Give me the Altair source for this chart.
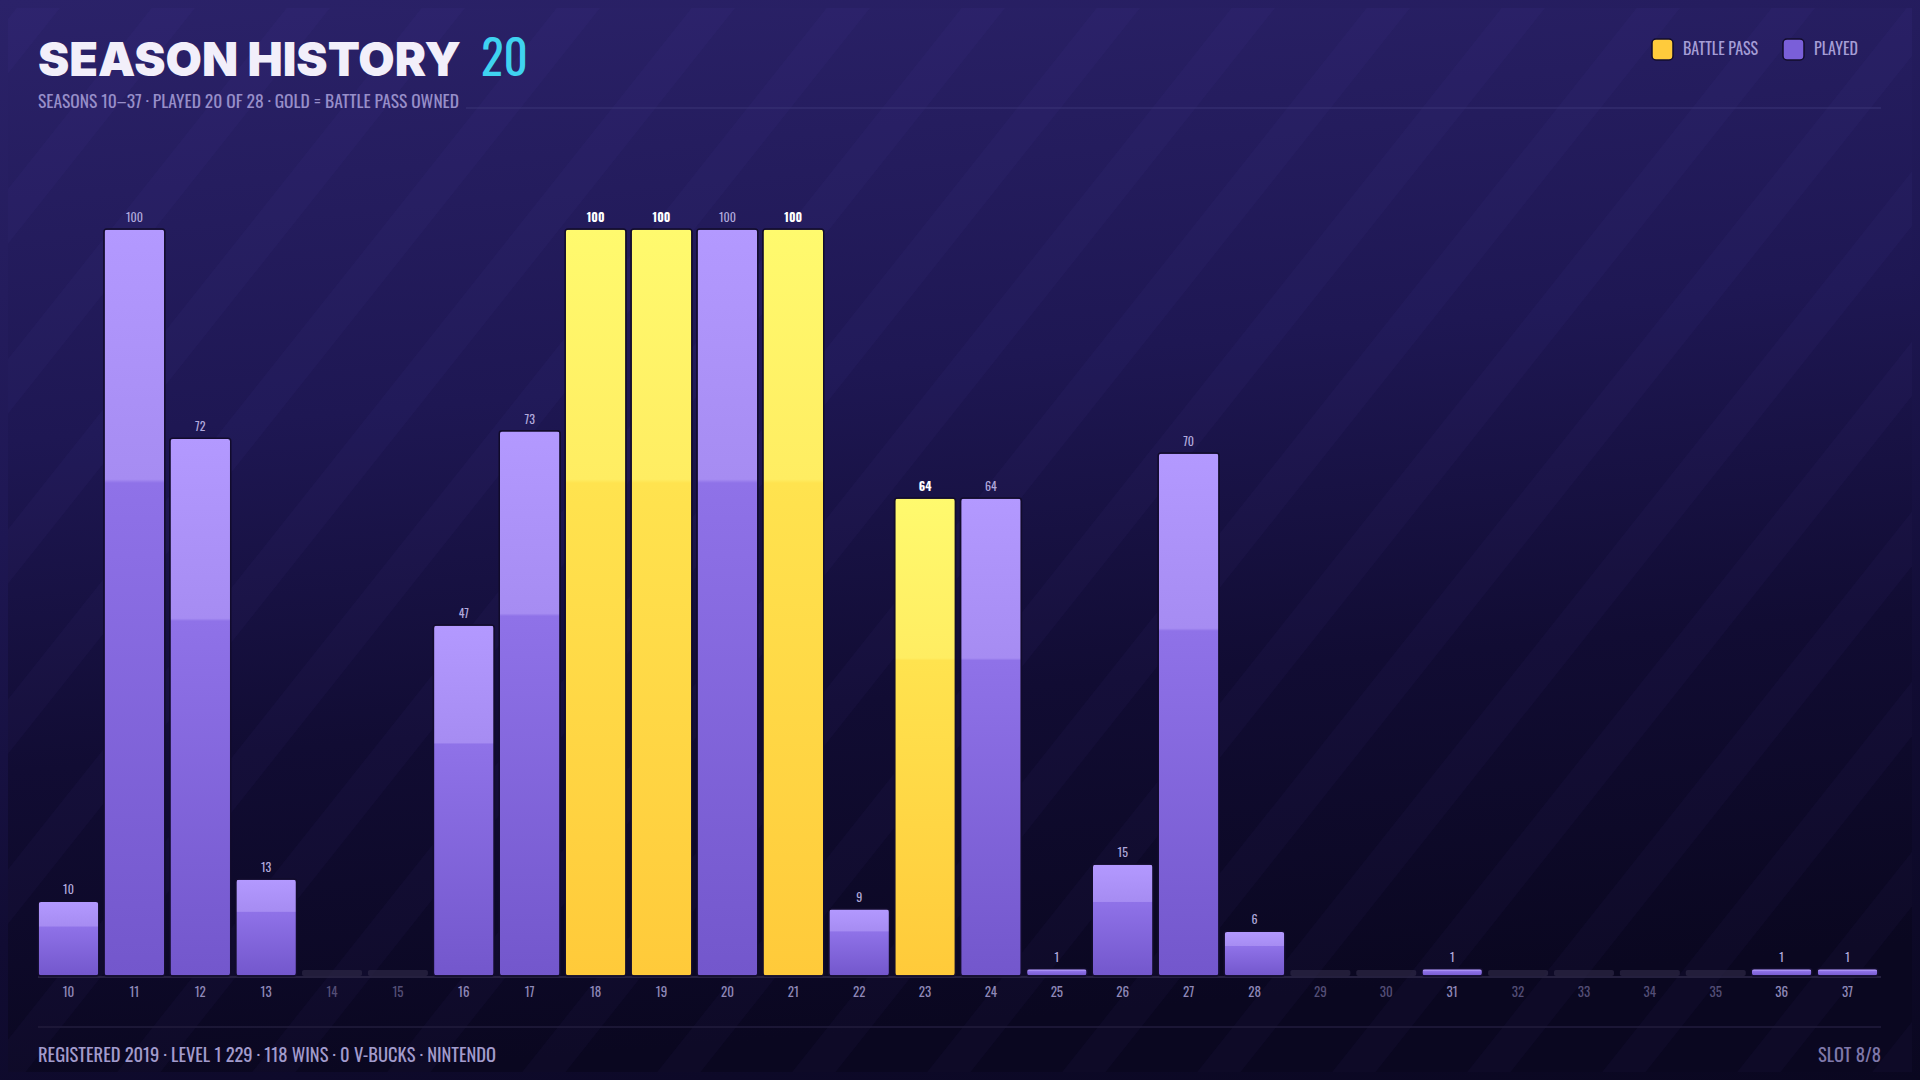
import altair as alt
import pandas as pd

# ---- data ----
seasons = list(range(10, 38))
progress = [10, 100, 72, 13, 0, 0, 47, 73, 100, 100, 100, 100, 9, 64, 64, 1, 15, 70, 6,
            0, 0, 1, 0, 0, 0, 0, 1, 1]
battle_pass = [18, 19, 21, 23]

df = pd.DataFrame({"season": [str(s) for s in seasons], "v": progress})
df["kind"] = ["bp" if s in battle_pass else ("played" if v > 0 else "empty")
              for s, v in zip(seasons, progress)]
order = [str(s) for s in seasons]

W, H = 1840, 747          # plot area
PL, PT = 30, 221          # padding left/top (chart coords)
TOTAL_W, TOTAL_H = 1904, 1064
COND = ("Oswald, 'Roboto Condensed', 'Noto Sans Condensed', 'Open Sans Condensed', "
        "'Liberation Sans Narrow', 'Arial Narrow', 'DejaVu Sans Condensed', sans-serif")
HEAVY = "Inter, Roboto, 'DejaVu Sans', sans-serif"

x = alt.X("season:N", sort=order, axis=None,
          scale=alt.Scale(paddingInner=0.075, paddingOuter=0.0))
y = alt.Y("v:Q", axis=None, scale=alt.Scale(domain=[0, 100], nice=False))

one = pd.DataFrame({"a": [0]})

bg = alt.Chart(one).mark_rect(
    fill=alt.Gradient(gradient="linear", x1=0, y1=0, x2=0.15, y2=1,
                      stops=[alt.GradientStop(color="#2b2269", offset=0),
                             alt.GradientStop(color="#1e1753", offset=0.4),
                             alt.GradientStop(color="#110c33", offset=0.7),
                             alt.GradientStop(color="#0a0720", offset=1)])
).encode(x=alt.value(-PL - 8), x2=alt.value(TOTAL_W - PL + 8),
         y=alt.value(-PT - 8), y2=alt.value(TOTAL_H - PT + 8))

# subtle diagonal stripes (decoration)
offs = list(range(-1100, 2000, 135))
stripes_df = pd.DataFrame({"x0": [o - PL for o in offs],
                           "x1": [o + 900 - PL for o in offs]})
stripes = alt.Chart(stripes_df).mark_rule(
    color="#8a7cff", opacity=0.035, strokeWidth=34, strokeCap="butt"
).encode(x=alt.X("x0:Q", scale=None), x2="x1:Q",
         y=alt.value(TOTAL_H - PT + 20), y2=alt.value(-PT - 50))

played_grad = alt.Gradient(gradient="linear", x1=0, y1=0, x2=0, y2=1, stops=[
    alt.GradientStop(color="#b399ff", offset=0),
    alt.GradientStop(color="#a68cf2", offset=0.335),
    alt.GradientStop(color="#8f72e8", offset=0.34),
    alt.GradientStop(color="#7357cc", offset=1)])
bp_grad = alt.Gradient(gradient="linear", x1=0, y1=0, x2=0, y2=1, stops=[
    alt.GradientStop(color="#fffa6e", offset=0),
    alt.GradientStop(color="#ffed62", offset=0.335),
    alt.GradientStop(color="#ffe34f", offset=0.34),
    alt.GradientStop(color="#ffca3a", offset=1)])

base = alt.Chart(df)

empty_ticks = base.transform_filter("datum.kind == 'empty'").mark_tick(
    color="#2c2745", thickness=6, size=60, yOffset=-3, cornerRadius=2
).encode(x=x, y=y)

played = base.transform_filter("datum.kind == 'played'").mark_bar(
    fill=played_grad, stroke="#120c2c", strokeWidth=1.5, cornerRadius=3
).encode(x=x, y=y)
bp = base.transform_filter("datum.kind == 'bp'").mark_bar(
    fill=bp_grad, stroke="#120c2c", strokeWidth=1.5, cornerRadius=3
).encode(x=x, y=y)

lbl_played = base.transform_filter("datum.kind == 'played'").mark_text(
    font=COND, fontSize=12, color="#b1a9dc", dy=-11
).encode(x=x, y=y, text="v:Q")
lbl_bp = base.transform_filter("datum.kind == 'bp'").mark_text(
    font=COND, fontSize=12, fontWeight="bold", color="#ffffff", dy=-11
).encode(x=x, y=y, text="v:Q")

baseline = alt.Chart(one).mark_rule(color="#2e2948", strokeWidth=1.5).encode(
    x=alt.value(0), x2=alt.value(W + 3), y=alt.value(H + 1))

xlabels = base.mark_text(font=COND, fontSize=13, baseline="middle").encode(
    x=x, y=alt.value(H + 17),
    text="season:N",
    color=alt.condition("datum.kind == 'empty'", alt.value("#544e76"), alt.value("#8f88b8")))


def txt(t, xx, yy, **kw):
    return alt.Chart(one).mark_text(text=t, align=kw.pop("align", "left"),
                                    baseline=kw.pop("baseline", "alphabetic"), **kw
                                    ).encode(x=alt.value(xx), y=alt.value(yy))


title = txt("SEASON HISTORY", 0, -153, font=HEAVY, fontSize=47, fontWeight=900, color="#f2effa")
count = txt("20", 443, -153, font=COND, fontSize=47, color="#3fd3f0")
subtitle = txt("SEASONS 10–37  ·  PLAYED 20 OF 28  ·  GOLD = BATTLE PASS OWNED", 0, -121,
               font=COND, fontSize=17.5, color="#978ec9")
head_line = alt.Chart(one).mark_rule(color="#3b3477", strokeWidth=1).encode(
    x=alt.value(428), x2=alt.value(1843), y=alt.value(-121))

legend_boxes = alt.layer(
    alt.Chart(one).mark_rect(cornerRadius=4, fill="#ffcb3c", stroke="#120c2c", strokeWidth=1.5).encode(
        x=alt.value(1614), x2=alt.value(1635), y=alt.value(-190), y2=alt.value(-169)),
    alt.Chart(one).mark_rect(cornerRadius=4, fill="#7a5fd9", stroke="#120c2c", strokeWidth=1.5).encode(
        x=alt.value(1745), x2=alt.value(1766), y=alt.value(-190), y2=alt.value(-169)),
)
leg_t1 = txt("BATTLE PASS", 1645, -179, font=COND, fontSize=16, color="#a59dd6", baseline="middle")
leg_t2 = txt("PLAYED", 1776, -179, font=COND, fontSize=16, color="#a59dd6", baseline="middle")

foot_line = alt.Chart(one).mark_rule(color="#221d3d", strokeWidth=1.5).encode(
    x=alt.value(0), x2=alt.value(1843), y=alt.value(798))
footer = txt("REGISTERED 2019  ·  LEVEL 1 229  ·  118 WINS  ·  0 V-BUCKS  ·  NINTENDO", 0, 833,
             font=COND, fontSize=18.5, color="#a29bcc")
slot = txt("SLOT 8/8", 1843, 833, font=COND, fontSize=18.5, color="#7f78aa", align="right")

chart = alt.layer(
    bg, stripes, head_line, foot_line, baseline, empty_ticks, played, bp,
    lbl_played, lbl_bp, xlabels, title, count, subtitle, legend_boxes, leg_t1, leg_t2,
    footer, slot
).properties(
    width=W, height=H,
    padding={"left": PL, "top": PT, "right": TOTAL_W - PL - W, "bottom": TOTAL_H - PT - H},
    autosize=alt.AutoSizeParams(type="none"),
    background="#0a0720",
).configure_view(stroke=None)

chart.save("out.html", embed_options={
    "renderer": "svg", "actions": False,
    "defaultStyle": "html,body{background:linear-gradient(172deg,#2b2269 0%,#1e1753 40%,#110c33 70%,#0a0720 100%);}"})
